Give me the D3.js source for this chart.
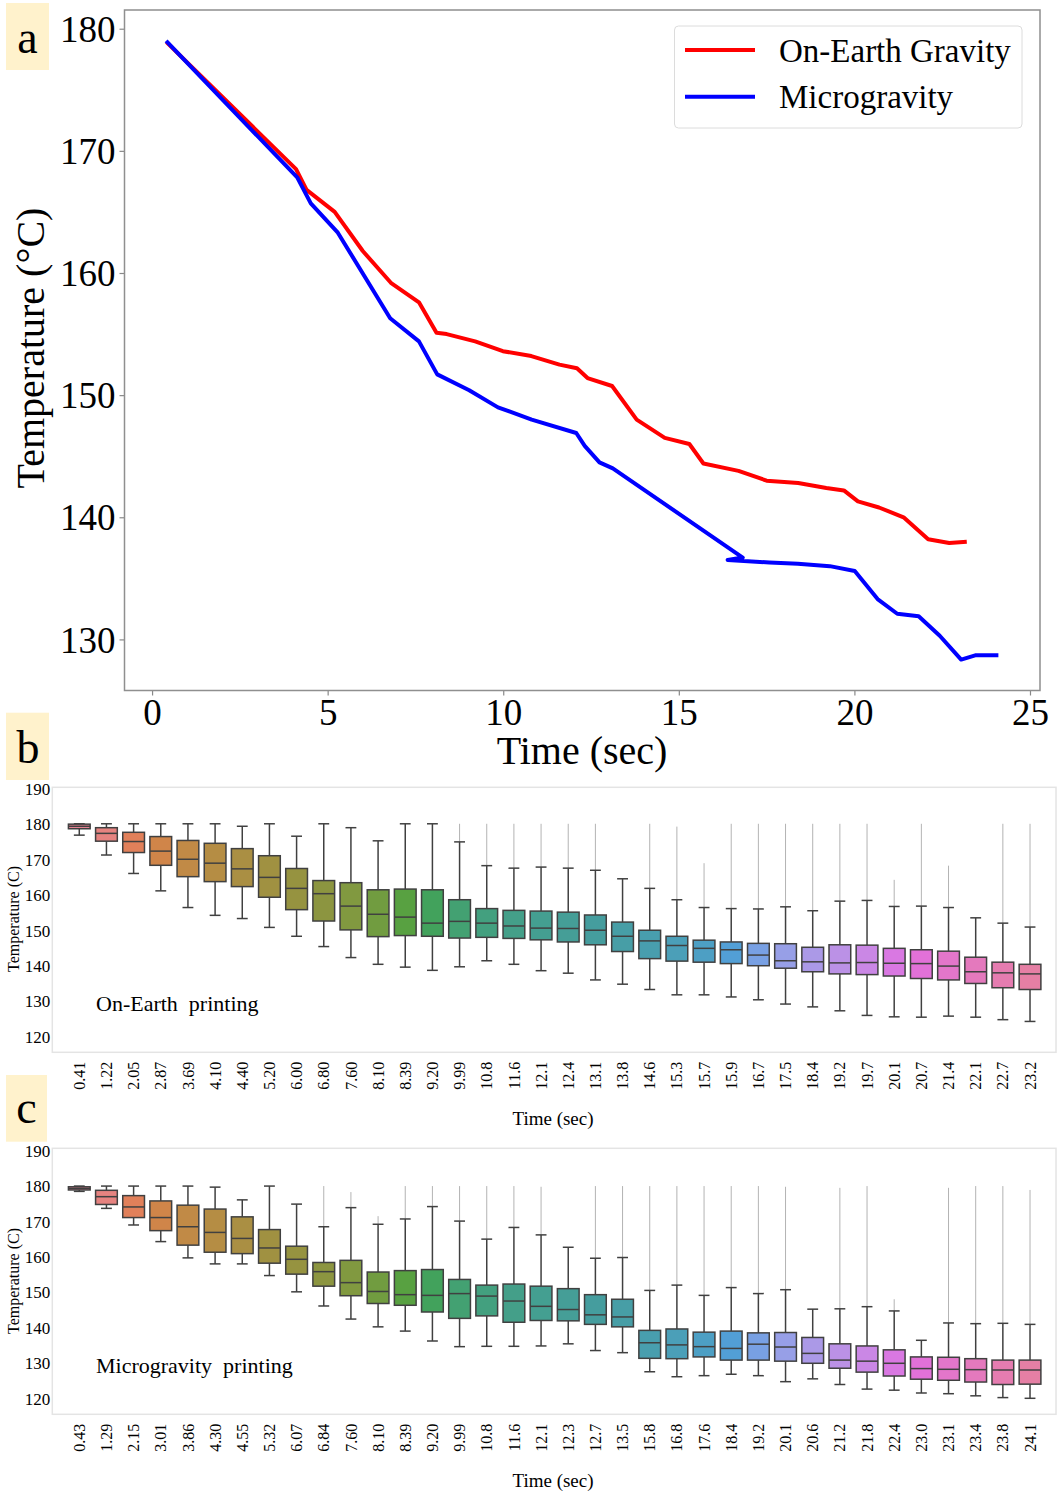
<!DOCTYPE html>
<html><head><meta charset="utf-8">
<script src="https://cdn.jsdelivr.net/npm/d3@7"></script>
<style>
body{margin:0;background:#fff}
svg{display:block}
text{font-family:"Liberation Serif","Times New Roman",Times,serif;fill:#000}
</style>
</head><body>
<svg id="fig" width="1057" height="1492"></svg>
<script>
// ---------------- DATA ----------------
// Panel a: line chart
const lineSeries = ["On-Earth Gravity", "Microgravity"];
const earthLineTime = [0.41,4.10,4.40,5.20,6.00,6.80,7.60,8.10,8.39,9.20,9.99,10.8,11.6,12.1,12.4,13.1,13.8,14.6,15.3,15.7,16.7,17.5,18.4,19.2,19.7,20.1,20.7,21.4,22.1,22.7,23.2];
const earthLineTemp = [178.9,168.5,166.8,165.0,161.8,159.2,157.6,155.1,155.0,154.4,153.6,153.2,152.5,152.2,151.4,150.75,148.0,146.5,146.0,144.4,143.8,143.0,142.8,142.4,142.2,141.3,140.8,140.0,138.2,137.9,138.0];
const microLineTime = [0.40,4.14,4.52,5.29,6.78,7.60,8.12,9.03,9.85,10.81,12.08,12.32,12.74,13.12,16.82,16.39,17.58,18.39,19.30,20.01,20.66,21.22,21.83,22.43,23.04,23.44,24.10];
const microLineTemp = [179.0,167.8,165.7,163.3,156.3,154.4,151.7,150.4,149.0,148.0,146.9,145.85,144.5,144.0,136.7,136.5,136.3,136.2,136.0,135.6,133.3,132.1,131.9,130.3,128.35,128.7,128.7];
const lineTicksX = [0,5,10,15,20,25];
const lineTicksY = [130,140,150,160,170,180];

// Panel b: On-Earth printing box plots
const earthTimes = ["0.41","1.22","2.05","2.87","3.69","4.10","4.40","5.20","6.00","6.80","7.60","8.10","8.39","9.20","9.99","10.8","11.6","12.1","12.4","13.1","13.8","14.6","15.3","15.7","15.9","16.7","17.5","18.4","19.2","19.7","20.1","20.7","21.4","22.1","22.7","23.2"];
const earthWhiskerHi = [180,180,180,180,180,180,179.3,180,176.5,180,178.9,175.2,180,180,174.9,168.2,167.5,167.8,167.5,166.9,164.5,161.8,158.6,156.4,156.1,156.0,156.6,155.5,158.2,158.4,156.7,156.8,156.4,153.5,152.0,150.9];
const earthQ3 = [179.9,178.9,177.6,176.4,175.3,174.5,173.0,171.0,167.4,164.0,163.4,161.4,161.6,161.4,158.6,156.1,155.6,155.4,155.1,154.3,152.3,150.0,148.3,147.2,146.7,146.3,146.2,145.2,145.9,145.8,144.9,144.5,144.1,142.4,141.0,140.4];
const earthMedian = [179.3,177.3,175.0,172.3,170.0,168.9,167.3,164.9,161.8,160.3,156.8,154.5,153.7,152.0,152.5,152.0,151.2,150.6,150.5,150.0,148.3,147.0,145.7,144.9,144.5,143.0,141.4,141.1,140.8,140.9,140.7,140.6,139.9,138.3,138.0,137.7];
const earthQ1 = [178.6,175.1,171.9,168.3,165.1,163.7,162.3,159.3,155.8,152.6,150.1,148.2,148.5,148.3,147.8,148.0,147.7,147.3,146.7,145.9,144.0,142.0,141.3,141.0,140.6,140.0,139.3,138.3,137.7,137.5,137.1,136.4,136.0,135.0,133.8,133.3];
const earthWhiskerLo = [176.8,171.2,166.0,161.1,156.4,154.2,153.3,150.8,148.3,145.4,142.3,140.4,139.6,138.7,139.7,141.4,140.4,138.6,137.9,136.0,134.8,133.3,131.8,131.8,131.2,130.4,129.2,128.4,127.3,126.0,125.6,125.5,125.8,125.5,124.8,124.3];
const earthFlierHi = [null,null,null,null,null,null,null,null,null,null,null,null,null,null,180,180,180,180,180,180,null,180,179.2,168.9,180,180,180,180,180,180,164.2,180,168.2,null,180,180];

// Panel c: Microgravity printing box plots
const microTimes = ["0.43","1.29","2.15","3.01","3.86","4.30","4.55","5.32","6.07","6.84","7.60","8.10","8.39","9.20","9.99","10.8","11.6","12.1","12.3","12.7","13.5","15.8","16.8","17.6","18.4","19.2","20.1","20.6","21.2","21.8","22.4","23.0","23.1","23.4","23.8","24.1"];
const microWhiskerHi = [180,180,180,180,180,179.7,176.1,180,174.9,168.5,173.9,169.2,170.7,174.2,170.1,165.0,168.3,166.2,162.7,159.6,159.8,150.5,152.0,149.1,151.3,149.6,150.7,145.2,145.3,145.9,144.7,136.4,141.3,141.1,141.2,140.9];
const microQ3 = [179.8,178.8,177.3,175.8,174.6,173.5,171.3,167.7,163.0,158.4,159.0,155.7,156.1,156.4,153.6,152.0,152.3,151.7,151.0,149.3,148.0,139.2,139.6,138.7,139.0,138.5,138.6,137.2,135.4,134.8,133.7,131.7,131.6,131.2,130.8,130.8];
const microMedian = [179.35,177.0,174.1,171.1,168.5,166.9,165.2,162.5,159.3,155.8,152.7,150.2,149.3,149.1,149.6,148.9,147.5,146.0,145.1,143.6,143.0,135.7,135.1,134.6,134.1,135.3,134.5,132.7,130.8,130.5,129.9,128.4,128.2,128.1,128.0,128.0];
const microQ1 = [178.9,174.8,171.1,167.4,163.3,161.3,160.9,158.2,155.1,151.7,149.0,146.8,146.3,144.4,142.6,143.3,141.5,142.0,141.9,140.9,140.2,131.3,131.2,131.7,130.8,130.8,130.5,129.9,128.5,127.4,126.3,125.4,125.1,124.6,123.9,124.0];
const microWhiskerLo = [178.5,173.7,169.0,164.3,159.7,158.0,158.0,154.7,150.1,146.1,142.4,140.2,139.0,136.2,134.6,134.7,134.7,134.8,135.4,133.5,132.9,127.5,126.1,126.4,126.8,126.4,124.7,125.5,123.9,122.6,122.3,121.5,121.3,120.7,120.2,120.0];
const microFlierHi = [null,null,null,null,null,null,null,null,null,180,178.3,171.5,180,180,180,180,180,179.8,null,180,180,180,180,180,180,180,179.8,null,179.5,180,148.0,null,179.5,180,180,178.9];

const boxTicksY = [120,130,140,150,160,170,180,190];

// ---------------- HELPERS ----------------
// HUSL (as used by seaborn's husl_palette)
function huslToRgb(H, S, L) {
  const m = [[3.2406,-1.5372,-0.4986],[-0.9689,1.8758,0.0415],[0.0557,-0.2040,1.0570]];
  const refU = 0.19784, refV = 0.46834, labE = 0.008856, labK = 903.3;
  const hrad = H / 360 * 2 * Math.PI, sinH = Math.sin(hrad), cosH = Math.cos(hrad);
  const sub1 = Math.pow(L + 16, 3) / 1560896;
  const sub2 = sub1 > 0.008856 ? sub1 : L / 903.3;
  let maxC = Infinity;
  for (const [m1, m2, m3] of m) {
    const top = (0.99915*m1 + 1.05122*m2 + 1.14460*m3) * sub2;
    const rb = 0.86330*m3 - 0.17266*m2;
    const lb = 0.12949*m3 - 0.38848*m1;
    const bottom = (rb*sinH + lb*cosH) * sub2;
    for (const t of [0, 1]) {
      const C = L * (top - 1.05122*t) / (bottom + 0.17266*sinH*t);
      if (C > 0 && C < maxC) maxC = C;
    }
  }
  const C = maxC / 100 * S;
  const U = cosH * C, V = sinH * C;
  const fInv = t => Math.pow(t,3) > labE ? Math.pow(t,3) : (116*t - 16) / labK;
  const Y = fInv((L + 16) / 116);
  const vU = U / (13*L) + refU, vV = V / (13*L) + refV;
  const X = -(9*Y*vU) / ((vU - 4)*vV - vU*vV);
  const Z = (9*Y - 15*vV*Y - vV*X) / (3*vV);
  const fromLin = c => c <= 0.0031308 ? 12.92*c : 1.055*Math.pow(c, 1/2.4) - 0.055;
  return m.map(r => Math.min(1, Math.max(0, fromLin(r[0]*X + r[1]*Y + r[2]*Z))));
}
function huslPalette(n) {
  const out = [];
  for (let i = 0; i < n; i++) {
    const h = ((i / n + 0.01) % 1) * 359;
    const rgb = huslToRgb(h, 0.9*99, 0.65*99);
    const c = d3.hsl(d3.rgb(rgb[0]*255, rgb[1]*255, rgb[2]*255));
    c.s *= 0.75; // seaborn desaturation
    out.push(c);
  }
  return out;
}

const svg = d3.select("#fig");
const SERIF = '"Liberation Serif","Times New Roman",Times,serif';

// panel tag boxes
function tag(x, y, w, h, letter, bx, by) {
  svg.append("rect").attr("x", x).attr("y", y).attr("width", w).attr("height", h).attr("fill", "#fff2cc");
  svg.append("text").attr("x", bx).attr("y", by).attr("text-anchor", "middle")
    .style("font-size", "46px").text(letter);
}

// ---------------- PANEL A ----------------
(function panelA() {
  const L = 124.5, R = 1040, T = 10, B = 690.5;
  const allX = earthLineTime.concat(microLineTime), allY = earthLineTemp.concat(microLineTemp);
  const [x0, x1] = d3.extent(allX), [y0, y1] = d3.extent(allY);
  const px = (x1 - x0) * 0.05, py = (y1 - y0) * 0.05;
  const x = d3.scaleLinear().domain([x0 - px, x1 + px]).range([L, R]);
  const y = d3.scaleLinear().domain([y0 - py, y1 + py]).range([B, T]);

  const g = svg.append("g");
  const line = d3.line().x(d => x(d[0])).y(d => y(d[1]));
  const series = [
    {name: lineSeries[0], color: "#ff0000", pts: earthLineTime.map((t, i) => [t, earthLineTemp[i]])},
    {name: lineSeries[1], color: "#0000ff", pts: microLineTime.map((t, i) => [t, microLineTemp[i]])}
  ];
  g.selectAll("path.ln").data(series).join("path").attr("class", "ln")
    .attr("d", d => line(d.pts)).attr("fill", "none").attr("stroke", d => d.color)
    .attr("stroke-width", 4).attr("stroke-linejoin", "round");

  const ax = g.append("g").attr("transform", `translate(0,${B})`)
    .call(d3.axisBottom(x).tickValues(lineTicksX).tickFormat(d3.format("d")).tickSize(5).tickPadding(3));
  const ay = g.append("g").attr("transform", `translate(${L},0)`)
    .call(d3.axisLeft(y).tickValues(lineTicksY).tickFormat(d3.format("d")).tickSize(5).tickPadding(4));
  [ax, ay].forEach(a => {
    a.select(".domain").remove();
    a.selectAll("line").attr("stroke", "#888").attr("stroke-width", 1.2);
    a.selectAll("text").style("font-family", SERIF).style("font-size", "37px").attr("fill", "#000");
  });
  ay.selectAll("text").attr("dy", "0.34em");
  ax.selectAll("text").attr("dy", "0.72em");

  g.append("rect").attr("x", L).attr("y", T).attr("width", R - L).attr("height", B - T)
    .attr("fill", "none").attr("stroke", "#8f8f8f").attr("stroke-width", 1.5);

  svg.append("text").attr("x", 582).attr("y", 764).attr("text-anchor", "middle")
    .style("font-size", "40px").text("Time (sec)");
  svg.append("text").attr("transform", "translate(44,348) rotate(-90)").attr("text-anchor", "middle")
    .style("font-size", "40px").text("Temperature (°C)");

  // legend
  const lg = svg.append("g");
  lg.append("rect").attr("x", 674.5).attr("y", 26).attr("width", 347.5).attr("height", 102).attr("rx", 4)
    .attr("fill", "#fff").attr("fill-opacity", 0.8).attr("stroke", "#dcdcdc").attr("stroke-width", 1);
  series.forEach((s, i) => {
    const yy = 50 + i * 46.7;
    lg.append("line").attr("x1", 685).attr("x2", 755).attr("y1", yy).attr("y2", yy)
      .attr("stroke", s.color).attr("stroke-width", 4);
    lg.append("text").attr("x", 779).attr("y", yy + 11.7).style("font-size", "33px").text(s.name);
  });
})();
tag(6, 3, 43, 67, "a", 27.5, 53);

// ---------------- PANELS B & C ----------------
function boxPanel(o) {
  const fL = 52.3, fR = 1056;
  const n = o.times.length;
  const x = d3.scaleBand().domain(o.times).range([65.7, 1043.6]).paddingInner(0).paddingOuter(0);
  const y = d3.scaleLinear().domain([120, 190]).range([o.y120, o.y190]);
  const colors = huslPalette(n);
  const lum = d3.min(colors, c => c.l) * 0.6;
  const gray = d3.rgb(lum*255, lum*255, lum*255).formatHex();
  const g = svg.append("g");

  g.append("rect").attr("x", fL).attr("y", o.top).attr("width", fR - fL).attr("height", o.bottom - o.top)
    .attr("fill", "#fff").attr("stroke", "#e4e4e4").attr("stroke-width", 1.5);

  const bw = x.bandwidth() * 0.8, cw = bw * 0.5;
  const rows = o.times.map((t, i) => ({t, i, hi: o.whi[i], q3: o.q3[i], med: o.med[i], q1: o.q1[i], lo: o.wlo[i], fl: o.fl[i]}));
  const bg = g.selectAll("g.box").data(rows).join("g").attr("class", "box")
    .attr("transform", d => `translate(${x(d.t) + x.bandwidth()/2},0)`);
  // fliers (dense outliers drawn as a faint streak)
  bg.filter(d => d.fl != null).append("line")
    .attr("y1", d => y(d.fl)).attr("y2", d => y(d.hi))
    .attr("stroke", "#9a9a9a").attr("stroke-width", 1).attr("stroke-opacity", 0.75);
  bg.append("line").attr("y1", d => y(d.hi)).attr("y2", d => y(d.q3)).attr("stroke", gray).attr("stroke-width", 1.5);
  bg.append("line").attr("y1", d => y(d.q1)).attr("y2", d => y(d.lo)).attr("stroke", gray).attr("stroke-width", 1.5);
  bg.append("line").attr("x1", -cw/2).attr("x2", cw/2).attr("y1", d => y(d.hi)).attr("y2", d => y(d.hi)).attr("stroke", gray).attr("stroke-width", 1.5);
  bg.append("line").attr("x1", -cw/2).attr("x2", cw/2).attr("y1", d => y(d.lo)).attr("y2", d => y(d.lo)).attr("stroke", gray).attr("stroke-width", 1.5);
  bg.append("rect").attr("x", -bw/2).attr("width", bw)
    .attr("y", d => y(d.q3)).attr("height", d => Math.max(0.5, y(d.q1) - y(d.q3)))
    .attr("fill", d => colors[d.i].formatHex()).attr("stroke", gray).attr("stroke-width", 1.5);
  bg.append("line").attr("x1", -bw/2).attr("x2", bw/2).attr("y1", d => y(d.med)).attr("y2", d => y(d.med))
    .attr("stroke", gray).attr("stroke-width", 1.5);

  const ay = g.append("g").attr("transform", `translate(${fL},0)`)
    .call(d3.axisLeft(y).tickValues(boxTicksY).tickFormat(d3.format("d")).tickSize(0).tickPadding(2));
  ay.select(".domain").remove();
  ay.selectAll("text").style("font-family", SERIF).style("font-size", "17px").attr("fill", "#222").attr("dy", "0.34em");

  const ax = g.append("g").attr("transform", `translate(0,${o.bottom})`)
    .call(d3.axisBottom(x).tickSize(0).tickPadding(0));
  ax.select(".domain").remove();
  ax.selectAll("text").style("font-family", SERIF).style("font-size", "16px").attr("fill", "#222")
    .attr("transform", "rotate(-90)").attr("text-anchor", "end").attr("x", -9.5).attr("y", 0).attr("dy", "0.35em");

  svg.append("text").attr("transform", `translate(19,${o.ylabY}) rotate(-90)`).attr("text-anchor", "middle")
    .style("font-size", "16px").attr("fill", "#222").text("Temperature (C)");
  svg.append("text").attr("x", 553).attr("y", o.xlabY).attr("text-anchor", "middle")
    .style("font-size", "19px").attr("fill", "#222").text("Time (sec)");
  svg.append("text").attr("x", 96).attr("y", o.noteY).style("font-size", "22px").style("white-space", "pre")
    .attr("fill", "#111").text(o.note);
}

boxPanel({times: earthTimes, whi: earthWhiskerHi, q3: earthQ3, med: earthMedian, q1: earthQ1, wlo: earthWhiskerLo, fl: earthFlierHi,
  top: 787.3, bottom: 1052.3, y190: 788.3, y120: 1036.7, ylabY: 919, xlabY: 1125, noteY: 1010.5, note: "On-Earth  printing"});
boxPanel({times: microTimes, whi: microWhiskerHi, q3: microQ3, med: microMedian, q1: microQ1, wlo: microWhiskerLo, fl: microFlierHi,
  top: 1148.3, bottom: 1414.3, y190: 1150.7, y120: 1398.3, ylabY: 1281, xlabY: 1487, noteY: 1372.7, note: "Microgravity  printing"});

tag(6, 712.7, 43, 67.3, "b", 28, 763);
tag(6, 1075, 41, 66.7, "c", 26.5, 1123);
</script>
</body></html>
